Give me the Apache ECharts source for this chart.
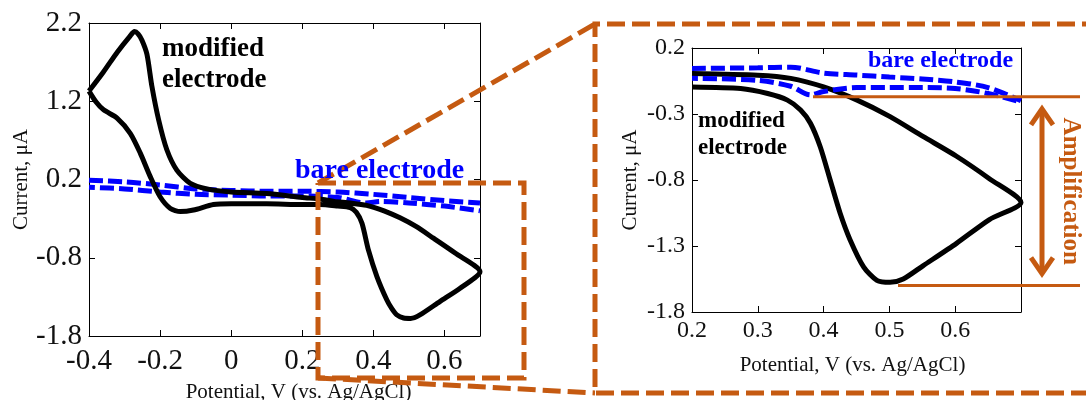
<!DOCTYPE html>
<html><head><meta charset="utf-8">
<script src="https://cdn.jsdelivr.net/npm/echarts@6/dist/echarts.min.js"></script>
<style>html,body{margin:0;padding:0;background:#fff}#c{width:1086px;height:400px}</style>
</head><body><div id="c"></div>
<script>
// ---- tick values ----
const wideXTicks = [-0.4, -0.2, 0, 0.2, 0.4, 0.6];
const wideYTicks = [-1.8, -0.8, 0.2, 1.2, 2.2];
const zoomXTicks = [0.2, 0.3, 0.4, 0.5, 0.6];
const zoomYTicks = [-1.8, -1.3, -0.8, -0.3, 0.2];

// ---- full-range CV (left panel) ----
const modifiedWide = [
  [-0.4,1.33],[-0.36,1.57],[-0.32,1.83],[-0.285,2.03],[-0.272,2.09],[-0.262,2.06],[-0.251,1.98],
  [-0.237,1.8],[-0.223,1.39],[-0.204,0.96],[-0.181,0.58],[-0.153,0.32],[-0.115,0.15],[-0.068,0.08],
  [0,0.04],[0.1,0.02],[0.2,-0.03],[0.25,-0.05],[0.29,-0.08],[0.335,-0.1],[0.381,-0.13],[0.43,-0.2],
  [0.475,-0.29],[0.52,-0.4],[0.569,-0.55],[0.63,-0.74],[0.7,-0.98],
  [0.644,-1.19],[0.587,-1.36],[0.531,-1.53],[0.505,-1.575],[0.485,-1.57],[0.466,-1.53],[0.452,-1.45],
  [0.438,-1.34],[0.41,-1.04],[0.386,-0.7],[0.368,-0.36],[0.352,-0.22],[0.335,-0.16],[0.3,-0.14],
  [0.25,-0.12],[0.2,-0.12],[0.1,-0.11],[0,-0.11],[-0.05,-0.12],[-0.106,-0.19],[-0.143,-0.21],
  [-0.171,-0.17],[-0.2,-0.02],[-0.228,0.24],[-0.256,0.54],[-0.284,0.79],[-0.321,0.985],[-0.359,1.09],
  [-0.38,1.19],[-0.4,1.33]
];
const bareWideFwd = [
  [-0.4,0.19],[-0.3,0.17],[-0.2,0.13],[-0.1,0.08],[0,0.06],[0.1,0.05],[0.2,0.05],[0.3,0.04],
  [0.4,0.01],[0.5,-0.03],[0.6,-0.07],[0.7,-0.1]
];
const bareWideRev = [
  [-0.4,0.1],[-0.3,0.08],[-0.2,0.04],[-0.1,0.01],[0,0.0],[0.1,-0.01],[0.2,-0.01],[0.3,-0.03],
  [0.38,-0.1],[0.42,-0.08],[0.5,-0.1],[0.6,-0.14],[0.7,-0.2]
];

// ---- zoomed CV (right panel) ----
const modifiedZoom = [
  [0.2,0.007],[0.3,-0.006],[0.35,-0.03],[0.4,-0.095],[0.451,-0.195],[0.501,-0.32],[0.551,-0.47],
  [0.602,-0.62],[0.652,-0.79],[0.7,-0.97],[0.652,-1.1],[0.602,-1.28],[0.551,-1.45],[0.521,-1.55],
  [0.501,-1.575],[0.481,-1.56],[0.461,-1.46],[0.44,-1.25],[0.425,-1.05],[0.41,-0.8],[0.395,-0.55],
  [0.38,-0.37],[0.365,-0.27],[0.345,-0.195],[0.315,-0.145],[0.274,-0.107],[0.2,-0.095]
];
const bareZoomFwd = [
  [0.2,0.045],[0.3,0.05],[0.35,0.055],[0.4,0.01],[0.45,-0.005],[0.5,-0.02],[0.55,-0.035],
  [0.6,-0.057],[0.65,-0.1],[0.7,-0.2]
];
const bareZoomRev = [
  [0.2,-0.03],[0.3,-0.045],[0.35,-0.09],[0.38,-0.155],[0.4,-0.13],[0.45,-0.1],[0.5,-0.1],
  [0.55,-0.1],[0.6,-0.107],[0.65,-0.145],[0.7,-0.21]
];
// amplification reference levels (bare level, modified peak)
const ampLevels = [-0.17, -1.6];

const SERIF = '"Liberation Serif","Times New Roman",serif';
const ORANGE = '#C55A11';
const BLUE = '#0000FF';

function frameAxis(pos, gridIndex, ticks, min, max) {
  return {
    type: 'value', gridIndex, position: pos, min, max,
    axisLine: {show: true, onZero: false, lineStyle: {color: '#000', width: 1}},
    axisTick: {show: true, inside: true, length: 6, customValues: ticks, lineStyle: {color: '#000'}},
    axisLabel: {show: false, customValues: ticks},
    splitLine: {show: false}
  };
}
function mainAxis(pos, gridIndex, ticks, min, max, fs, margin, name, gap, pad) {
  return {
    type: 'value', gridIndex, position: pos, min, max,
    name, nameLocation: 'middle', nameGap: gap, nameMoveOverlap: false,
    nameTextStyle: {fontFamily: SERIF, fontSize: 21, color: '#111', padding: pad || 0},
    axisLine: {show: true, onZero: false, lineStyle: {color: '#000', width: 1}},
    axisTick: {show: true, inside: true, length: 6, customValues: ticks, lineStyle: {color: '#000'}},
    axisLabel: {show: true, customValues: ticks, margin, fontFamily: SERIF, fontSize: fs, color: '#111'},
    splitLine: {show: false}
  };
}

const chart = echarts.init(document.getElementById('c'), null, {renderer: 'canvas'});
const xName = 'Potential, V (vs. Ag/AgCl)';
const yName = 'Current, \u03bcA';

chart.setOption({
  animation: false,
  backgroundColor: '#fff',
  grid: [
    {left: 89, top: 23, right: 606, bottom: 64, outerBoundsMode: 'none', containLabel: false},
    {left: 692, top: 48, right: 65, bottom: 88, outerBoundsMode: 'none', containLabel: false}
  ],
  xAxis: [
    mainAxis('bottom', 0, wideXTicks, -0.4, 0.7, 29, 11, xName, 46, [0, 0, 0, 28]),
    frameAxis('top', 0, wideXTicks, -0.4, 0.7),
    mainAxis('bottom', 1, zoomXTicks, 0.2, 0.7, 24, 7, xName, 43, [0, 8, 0, 0]),
    frameAxis('top', 1, zoomXTicks, 0.2, 0.7)
  ],
  yAxis: [
    mainAxis('left', 0, wideYTicks, -1.8, 2.2, 29, 7, yName, 57),
    frameAxis('right', 0, wideYTicks, -1.8, 2.2),
    mainAxis('left', 1, zoomYTicks, -1.8, 0.2, 24, 7, yName, 51),
    frameAxis('right', 1, zoomYTicks, -1.8, 0.2)
  ],
  series: [
    {type: 'line', name: 'bare fwd', xAxisIndex: 0, yAxisIndex: 0, data: bareWideFwd, showSymbol: false, smooth: 0.3,
      lineStyle: {color: BLUE, width: 5, type: [14, 5]}, z: 2},
    {type: 'line', name: 'bare rev', xAxisIndex: 0, yAxisIndex: 0, data: bareWideRev, showSymbol: false, smooth: 0.3,
      lineStyle: {color: BLUE, width: 5, type: [14, 5], dashOffset: 8}, z: 2},
    {type: 'line', name: 'modified', xAxisIndex: 0, yAxisIndex: 0, data: modifiedWide, showSymbol: false, smooth: 0.25,
      lineStyle: {color: '#000', width: 5, join: 'round'}, z: 3},
    {type: 'line', name: 'modified zoom', xAxisIndex: 2, yAxisIndex: 2, data: modifiedZoom, showSymbol: false, smooth: 0.25,
      lineStyle: {color: '#000', width: 5, join: 'round'}, z: 3},
    {type: 'line', name: 'bare zoom fwd', xAxisIndex: 2, yAxisIndex: 2, data: bareZoomFwd, showSymbol: false, smooth: 0.3,
      lineStyle: {color: BLUE, width: 5, type: [14, 5]}, z: 4},
    {type: 'line', name: 'bare zoom rev', xAxisIndex: 2, yAxisIndex: 2, data: bareZoomRev, showSymbol: false, smooth: 0.3,
      lineStyle: {color: BLUE, width: 5, type: [14, 5], dashOffset: 8}, z: 4}
  ]
});

// annotations
const yTop = chart.convertToPixel({seriesIndex: 3}, [0.7, ampLevels[0]])[1];
const yBot = chart.convertToPixel({seriesIndex: 3}, [0.7, ampLevels[1]])[1];
const ax = 1042;
const dash = {stroke: ORANGE, lineWidth: 5, lineDash: [18, 7], fill: null};

function txt(x, y, text, size, color) {
  return {type: 'text', x, y, z: 100, style: {
    text, fill: color, font: 'bold ' + size + 'px ' + SERIF, align: 'left', verticalAlign: 'middle'}};
}

chart.setOption({
  graphic: [
    txt(162, 49, 'modified', 27, '#000'),
    txt(162, 80, 'electrode', 27, '#000'),
    txt(295, 171, 'bare electrode', 28, BLUE),
    txt(698, 121, 'modified', 23, '#000'),
    txt(698, 148, 'electrode', 23, '#000'),
    txt(868, 61, 'bare electrode', 24, BLUE),
    // zoom box on left panel
    {type: 'polyline', z: 90, shape: {points: [[318, 183], [524, 183], [524, 378], [318, 378], [318, 183]]}, style: dash},
    {type: 'line', z: 90, shape: {x1: 318, y1: 183, x2: 595, y2: 24}, style: dash},
    {type: 'line', z: 90, shape: {x1: 318, y1: 378, x2: 595, y2: 393}, style: dash},
    // big zoom frame
    {type: 'polyline', z: 90, shape: {points: [[1100, 24], [595, 24], [595, 393], [1100, 393]]}, style: dash},
    // amplification guide lines
    {type: 'line', z: 90, shape: {x1: 813, y1: yTop, x2: 1080, y2: yTop}, style: {stroke: ORANGE, lineWidth: 3}},
    {type: 'line', z: 90, shape: {x1: 898, y1: yBot, x2: 1080, y2: yBot}, style: {stroke: ORANGE, lineWidth: 3}},
    // double arrow
    {type: 'line', z: 90, shape: {x1: ax, y1: yTop + 13, x2: ax, y2: yBot - 13}, style: {stroke: ORANGE, lineWidth: 5}},
    {type: 'polyline', z: 90, shape: {points: [[ax - 11, yTop + 28], [ax, yTop + 12], [ax + 11, yTop + 28]]},
      style: {stroke: ORANGE, lineWidth: 5, fill: null, lineJoin: 'miter'}},
    {type: 'polyline', z: 90, shape: {points: [[ax - 11, yBot - 28], [ax, yBot - 12], [ax + 11, yBot - 28]]},
      style: {stroke: ORANGE, lineWidth: 5, fill: null, lineJoin: 'miter'}},
    {type: 'text', x: 1070, y: (yTop + yBot) / 2, rotation: -Math.PI / 2, z: 100,
      style: {text: 'Amplification', fill: ORANGE, font: 'bold 25px ' + SERIF, align: 'center', verticalAlign: 'middle'}}
  ]
});
</script>
</body></html>
